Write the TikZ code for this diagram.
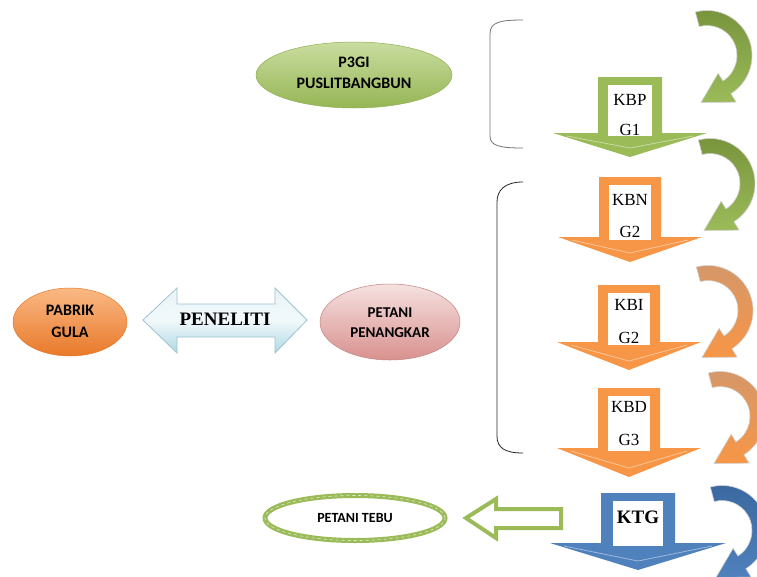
\documentclass[tikz,border=0pt]{standalone}
\usepackage{fontspec}
\setmainfont{Liberation Serif}
\newfontfamily\calib{Carlito}
\usetikzlibrary{shapes.geometric}
\definecolor{gA}{HTML}{9BBB59}
\definecolor{gD}{HTML}{77933C}
\definecolor{gL}{HTML}{C9DDA0}
\definecolor{oA}{HTML}{F79646}
\definecolor{oT}{HTML}{D4976A}
\definecolor{oL}{HTML}{FAB985}
\definecolor{oD}{HTML}{E8792A}
\definecolor{bA}{HTML}{4F81BD}
\definecolor{bD}{HTML}{3A679E}
\definecolor{pL}{HTML}{F5E1E0}
\definecolor{pD}{HTML}{D8918E}
\definecolor{cL}{HTML}{E8F4F8}
\definecolor{cD}{HTML}{AED8E5}
\definecolor{cE}{HTML}{9DC2CE}
\tikzset{
  sanslab/.style={inner sep=0pt, font=\calib\bfseries\fontsize{16}{19}\selectfont},
  seriflab/.style={inner sep=0pt, font=\fontsize{17}{20}\selectfont},
  bracketline/.style={line width=0.8pt},
}
\newcommand\blockdown[8]{%
  \fill[#1] (#2-#4,-#3) -- (#2+#4,-#3) -- (#2+#4,-#3-#5) -- (#2+#6,-#3-#5) -- (#2,-#3-#7) -- (#2-#6,-#3-#5) -- (#2-#4,-#3-#5) -- cycle;
  \fill[white] (#2-#8,-#3-8) rectangle (#2+#8,-#3-#5-3);
  \draw[white, opacity=0.45, line width=0.8pt] (#2-#6+14,-#3-#5-3) -- (#2,-#3-#7+9) -- (#2+#6-14,-#3-#5-3);
}
\newcommand\uturn[5]{%
  \begin{scope}[shift={(#1,-#2)}]
    \shade[top color=#4, bottom color=#5, draw=black!18, line width=0.6pt]
      (105:45) arc[start angle=105, end angle=-58, radius=45]
      -- (-58:55) -- (-6,-47) -- (-58:21) -- (-58:30)
      arc[start angle=-58, end angle=105, radius=30] -- cycle;
  \end{scope}}
\begin{document}
\begin{tikzpicture}[x=1pt,y=1pt]
\useasboundingbox (0,0) rectangle (757,-576);
\fill[white] (0,0) rectangle (757,-576);

% brackets
\draw[bracketline, black!55] (523,-20) .. controls (500,-20) and (490,-22) .. (490,-34) -- (490,-136) .. controls (490,-146) and (500,-148) .. (523,-148);
\draw[bracketline, black!85] (523,-182) .. controls (505,-182) and (497,-190) .. (497,-202) -- (497,-436) .. controls (497,-448) and (505,-453) .. (523,-453);

% P3GI ellipse
\shade[top color=gL, bottom color=gA!85!gD, draw=gA!70!gD, line width=0.5pt] (354,-75) ellipse[x radius=98, y radius=33];
\node[sanslab] (p3gi) at (354,-62) {P3GI};
\node[sanslab] (pusl) at (354,-83) {PUSLITBANGBUN};

% PABRIK GULA
\shade[top color=oL, bottom color=oD, draw=oD, line width=0.5pt] (70,-322) ellipse[x radius=57, y radius=34];
\node[sanslab] (pabrik) at (70,-310) {PABRIK};
\node[sanslab] (gula) at (70,-332) {GULA};

% PENELITI double arrow
\shade[top color=cL, bottom color=cD, middle color=cL!60!white, draw=cE, line width=0.8pt, line join=miter]
  (143,-320) -- (177,-288) -- (177,-304) -- (275,-304) -- (275,-288) -- (307,-320)
  -- (275,-353) -- (275,-337) -- (177,-337) -- (177,-353) -- cycle;
\node[seriflab, font=\bfseries\fontsize{19}{22}\selectfont] (peneliti) at (225,-319) {PENELITI};

% PETANI PENANGKAR
\shade[top color=pL, bottom color=pD, draw=pD!90!black, line width=0.5pt] (390,-322) ellipse[x radius=70, y radius=38];
\node[sanslab, font=\calib\bfseries\fontsize{15}{18}\selectfont] (petani) at (390,-313) {PETANI};
\node[sanslab, font=\calib\bfseries\fontsize{15}{18}\selectfont] (penangkar) at (390,-333) {PENANGKAR};

% block down arrows
\blockdown{gA}{630}{77}{32}{56}{77}{80}{22}
\node[seriflab] (kbp) at (630,-100) {KBP};
\node[seriflab] (g1) at (630,-130) {G1};

\blockdown{oA}{630}{177}{31}{60}{72}{85}{21}
\node[seriflab] (kbn) at (630,-200) {KBN};
\node[seriflab] (g2a) at (630,-232) {G2};

\blockdown{oA}{629}{285}{31}{57}{72}{85}{21}
\node[seriflab] (kbi) at (629,-305) {KBI};
\node[seriflab] (g2b) at (629,-338) {G2};

\blockdown{oA}{629}{388}{31}{60}{72}{89}{21}
\node[seriflab] (kbd) at (629,-407) {KBD};
\node[seriflab] (g3) at (629,-440) {G3};

\blockdown{bA}{638}{493}{37}{50}{88}{77}{25}
\node[seriflab, font=\bfseries\fontsize{19}{22}\selectfont] (ktg) at (638,-517) {KTG};

% hollow left arrow
\draw[gA, line width=4pt, fill=white, line join=miter]
  (466,-518) -- (496,-499) -- (496,-509) -- (561,-509) -- (561,-528) -- (496,-528) -- (496,-538) -- cycle;

% PETANI TEBU
\draw[gA, line width=5pt, fill=white] (355,-518) ellipse[x radius=90, y radius=22.5];
\draw[white, opacity=0.7, line width=0.6pt, dashed] (355,-518) ellipse[x radius=90, y radius=22.5];
\node[sanslab, font=\calib\bfseries\fontsize{14}{17}\selectfont] (tebu) at (355,-518) {PETANI TEBU};

% curved arrows on the right
\uturn{707}{55.5}{1}{gD}{gA}
\uturn{710}{183.5}{1}{gD}{gA}
\uturn{708}{310.5}{1}{oT}{oA}
\uturn{720}{416.5}{1}{oT}{oA}
\uturn{722}{530.5}{1}{bD}{bA}
\end{tikzpicture}
\end{document}
